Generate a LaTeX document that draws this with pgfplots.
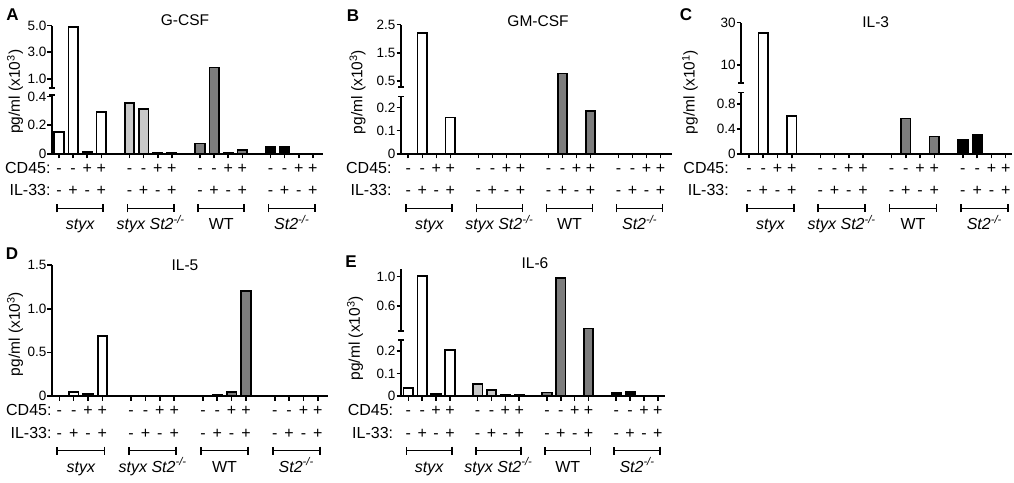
\documentclass[border=0pt]{standalone}
\usepackage{pgfplots}
\pgfplotsset{compat=1.18}
\usetikzlibrary{arrows.meta}
\usepackage{fontspec}
\setmainfont{Liberation Sans}
\definecolor{cl}{RGB}{200,200,200}
\definecolor{cd}{RGB}{125,125,125}
\newcommand\lf{\fontsize{16}{19}\selectfont}
\newcommand\ttl{\fontsize{15.5}{18}\selectfont}
\newcommand\tf{\fontsize{13.5}{15}\selectfont}
\newcommand\pf{\fontsize{17}{17}\selectfont\bfseries}

\tikzset{sg/.style={font=\lf, anchor=base, inner sep=0pt}}
\pgfplotsset{
  panel/.style={
    anchor=south west, y=1pt,
    axis x line*=bottom, axis y line*=left,
    axis line style={-, line width=1.9pt},
    tick align=outside, major tick length=4.5pt,
    every tick/.style={black, line width=1.6pt},
    xtick={0,1,2,3,5,6,7,8,10,11,12,13,15,16,17,18},
    xticklabels={},
    yticklabel style={font=\tf, inner sep=1pt},
    clip=false,
  },
  bb/.style={ybar, bar width=9.5pt, bar shift=0pt, draw=black, line width=1.7pt, fill=#1},
  brk/.style n args={5}{
    y coord trafo/.code={%
      \begingroup
      \pgfkeys{/pgf/fpu=true,/pgf/fpu/output format=fixed}%
      \pgfmathparse{(##1<#1)*(#2*##1)+(##1>=#1)*(#3+#4*(##1-#5))}%
      \xdef\brkres{\pgfmathresult}%
      \endgroup
      \let\pgfmathresult\brkres
    },
  },
}

\newcommand\brkaxis[2]{%
  \draw[line width=1.9pt] (rel axis cs:0,0) -- ([yshift=#1pt]rel axis cs:0,0);
  \draw[line width=1.6pt] ([xshift=-3pt,yshift=#1pt]rel axis cs:0,0) -- ([xshift=3pt,yshift=#1pt]rel axis cs:0,0);
  \draw[line width=1.9pt] ([yshift=#2pt]rel axis cs:0,0) -- (rel axis cs:0,1);
  \draw[line width=1.6pt] ([xshift=-3pt,yshift=#2pt]rel axis cs:0,0) -- ([xshift=3pt,yshift=#2pt]rel axis cs:0,0);
}

\newcommand\lowerrows[1]{%
  \pgfplotsinvokeforeach{0,1,5,6,10,11,15,16}{\node[sg] at ([yshift=-19.5pt]axis cs:##1,0) {-};}
  \pgfplotsinvokeforeach{2,3,7,8,12,13,17,18}{\node[sg] at ([yshift=-19.5pt]axis cs:##1,0) {+};}
  \pgfplotsinvokeforeach{0,2,5,7,10,12,15,17}{\node[sg] at ([yshift=-42pt]axis cs:##1,0) {-};}
  \pgfplotsinvokeforeach{1,3,6,8,11,13,16,18}{\node[sg] at ([yshift=-42pt]axis cs:##1,0) {+};}
  \node[font=\lf, anchor=base east, inner sep=0pt] at ([xshift=#1, yshift=-19.5pt]rel axis cs:0,0) {CD45:};
  \node[font=\lf, anchor=base east, inner sep=0pt] at ([xshift=#1, yshift=-42pt]rel axis cs:0,0) {IL-33:};
  \pgfplotsinvokeforeach{0,5,10,15}{%
    \draw[line width=1.7pt, {Bar[width=8pt]}-{Bar[width=8pt]}] ([yshift=-54.5pt]axis cs:##1-0.2,0) -- ([yshift=-54.5pt]axis cs:##1+3.2,0);}
  \node[font=\lf\itshape, anchor=base] at ([yshift=-76pt]axis cs:1.5,0) {styx};
  \node[font=\lf\itshape, anchor=base] at ([yshift=-76pt]axis cs:6.5,0) {styx St2\textsuperscript{-/-}};
  \node[font=\lf, anchor=base] at ([yshift=-76pt]axis cs:11.5,0) {WT};
  \node[font=\lf\itshape, anchor=base] at ([yshift=-76pt]axis cs:16.5,0) {St2\textsuperscript{-/-}};
}

\begin{document}
\begin{tikzpicture}
\path[use as bounding box] (0,0) rectangle (1014pt,482pt);

% ---------- A: G-CSF ----------
\begin{axis}[panel, at={(52pt,328pt)}, x=14.1pt, xmin=-0.5, xmax=18.7,
  brk={0.5}{143.5}{75}{13.35}{1}, ymin=0, ymax=5,
  ytick={0,0.2,0.4,1,3,5}, yticklabels={0,0.2,0.4,1.0,3.0,5.0},
  y axis line style={draw=none}]
\addplot[bb=white] coordinates {(0,0.155) (1,4.9) (2,0.014) (3,0.293)};
\addplot[bb=cl] coordinates {(5,0.357) (6,0.316) (7,0.007) (8,0.007)};
\addplot[bb=cd] coordinates {(10,0.074) (11,1.85) (12,0.005) (13,0.028)};
\addplot[bb=black] coordinates {(15,0.051) (16,0.05) (17,0.003) (18,0.003)};
\brkaxis{59}{65.7}
\lowerrows{-1.3pt}
\end{axis}

% ---------- B: GM-CSF ----------
\begin{axis}[panel, at={(401pt,328pt)}, x=14.02pt, xmin=-0.52, xmax=18.8,
  brk={0.35}{233}{73}{28.2}{0.5}, ymin=0, ymax=2.5,
  ytick={0,0.1,0.2,0.5,1.5,2.5}, yticklabels={0,0.1,0.2,0.5,1.5,2.5},
  y axis line style={draw=none}]
\addplot[bb=white] coordinates {(0,0) (1,2.19) (2,0) (3,0.157)};
\addplot[bb=cl] coordinates {(5,0) (6,0) (7,0) (8,0)};
\addplot[bb=cd] coordinates {(10,0) (11,0.77) (12,0) (13,0.185)};
\addplot[bb=black] coordinates {(15,0) (16,0) (17,0) (18,0)};
\brkaxis{57.3}{66.7}
\lowerrows{-9.3pt}
\end{axis}

% ---------- C: IL-3 ----------
\begin{axis}[panel, at={(741.3pt,328pt)}, x=14.26pt, xmin=-0.54, xmax=18.45,
  brk={2}{62.3}{88.7}{2.13}{10}, ymin=0, ymax=30,
  ytick={0,0.4,0.8,10,30}, yticklabels={0,0.4,0.8,10,30},
  y axis line style={draw=none}]
\addplot[bb=white] coordinates {(0,0) (1,25) (2,0) (3,0.615)};
\addplot[bb=cl] coordinates {(5,0) (6,0) (7,0) (8,0)};
\addplot[bb=cd] coordinates {(10,0) (11,0.57) (12,0) (13,0.28)};
\addplot[bb=black] coordinates {(15,0.235) (16,0.305) (17,0) (18,0)};
\brkaxis{61.3}{70.7}
\lowerrows{-12.3pt}
\end{axis}

% ---------- D: IL-5 ----------
\begin{axis}[panel, at={(52pt,86pt)}, x=14.36pt, y=87.3pt, xmin=-0.51, xmax=18.7,
  ymin=0, ymax=1.5,
  ytick={0,0.5,1,1.5}, yticklabels={0,0.5,1.0,1.5}]
\addplot[bb=white] coordinates {(0,0.003) (1,0.042) (2,0.023) (3,0.69)};
\addplot[bb=cl] coordinates {(5,0) (6,0) (7,0) (8,0)};
\addplot[bb=cd] coordinates {(10,0.005) (11,0.008) (12,0.042) (13,1.206)};
\addplot[bb=black] coordinates {(15,0.005) (16,0.005) (17,0.004) (18,0.004)};
\lowerrows{-0.3pt}
\end{axis}

% ---------- E: IL-6 ----------
\begin{axis}[panel, at={(401pt,86pt)}, x=13.86pt, xmin=-0.53, xmax=18.5,
  brk={0.31}{225}{90}{73.3}{0.6}, ymin=0, ymax=1.1,
  ytick={0,0.1,0.2,0.6,1}, yticklabels={0,0.1,0.2,0.6,1.0},
  y axis line style={draw=none}]
\addplot[bb=white] coordinates {(0,0.037) (1,1.01) (2,0.008) (3,0.204)};
\addplot[bb=cl] coordinates {(5,0.052) (6,0.027) (7,0.005) (8,0.005)};
\addplot[bb=cd] coordinates {(10,0.015) (11,0.986) (12,0.002) (13,0.30)};
\addplot[bb=black] coordinates {(15,0.015) (16,0.019) (17,0.002) (18,0.002)};
\brkaxis{56}{65.3}
\lowerrows{-7.7pt}
\end{axis}

% titles
\node[font=\ttl] at (185pt,462pt) {G-CSF};
\node[font=\ttl] at (538pt,461.3pt) {GM-CSF};
\node[font=\ttl] at (875.7pt,460.3pt) {IL-3};
\node[font=\ttl] at (185pt,217pt) {IL-5};
\node[font=\ttl] at (535pt,218.7pt) {IL-6};
% panel letters
\node[font=\pf] at (12.5pt,467pt) {A};
\node[font=\pf] at (353pt,466pt) {B};
\node[font=\pf] at (686pt,467pt) {C};
\node[font=\pf] at (12pt,228pt) {D};
\node[font=\pf] at (351pt,220pt) {E};
% y labels
\node[font=\ttl, rotate=90] at (15pt,390.3pt) {pg/ml (x10\textsuperscript{3})};
\node[font=\ttl, rotate=90] at (357.5pt,390pt) {pg/ml (x10\textsuperscript{3})};
\node[font=\ttl, rotate=90] at (690pt,390pt) {pg/ml (x10\textsuperscript{1})};
\node[font=\ttl, rotate=90] at (15pt,148pt) {pg/ml (x10\textsuperscript{3})};
\node[font=\ttl, rotate=90] at (355pt,143.7pt) {pg/ml (x10\textsuperscript{3})};
\end{tikzpicture}
\end{document}
